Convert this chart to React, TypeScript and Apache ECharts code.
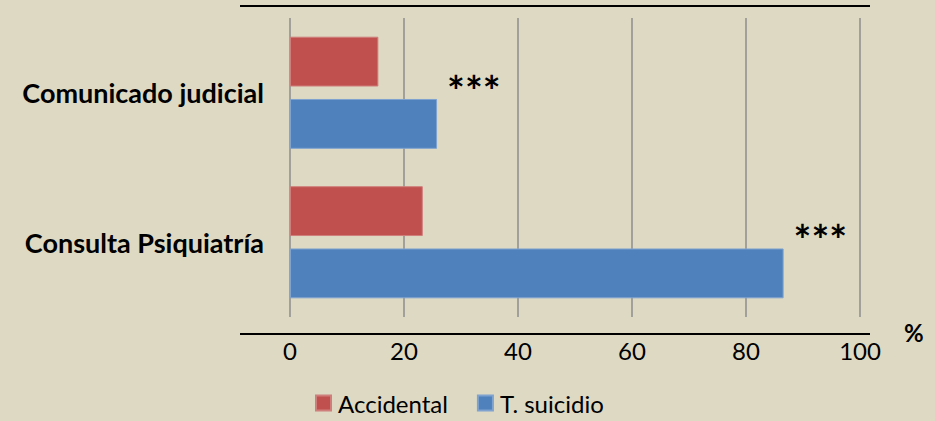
import React, { useEffect, useRef } from "react";
import * as echarts from "echarts";

const categories = ["Comunicado judicial", "Consulta Psiquiatría"];
const accidental = [15.5, 23.3];
const suicidio = [25.8, 86.6];
const significance = ["***", "***"];
const xTicks = [0, 20, 40, 60, 80, 100];

const GRID_LEFT = 290;
const GRID_RIGHT = 75;
const GRID_TOP = 18;
const GRID_BOTTOM = 104;
const W = 935;
const H = 421;

export default function App() {
  const ref = useRef<HTMLDivElement>(null);
  useEffect(() => {
    document.body.style.margin = "0";
    const chart = echarts.init(ref.current!, null, { renderer: "svg" });
    const font = "Lato";
    chart.setOption({
      animation: false,
      backgroundColor: "#DDD9C3",
      textStyle: { fontFamily: font },
      grid: { left: GRID_LEFT, right: GRID_RIGHT, top: GRID_TOP, bottom: GRID_BOTTOM },
      xAxis: {
        type: "value",
        min: xTicks[0],
        max: xTicks[xTicks.length - 1],
        interval: 20,
        axisLine: { show: false },
        axisTick: { show: false },
        axisLabel: { fontSize: 24, color: "#000", margin: 21, fontFamily: font },
        splitLine: { show: true, lineStyle: { color: "#8C8C8C", width: 1.5 } },
      },
      yAxis: {
        type: "category",
        data: categories,
        inverse: true,
        axisLine: { show: false },
        axisTick: { show: false },
        axisLabel: { fontSize: 27, fontWeight: "bold", color: "#000", margin: 26, fontFamily: font },
        splitLine: { show: false },
      },
      legend: {
        top: 391,
        left: 315,
        padding: 0,
        itemWidth: 15,
        itemHeight: 15,
        itemGap: 29,
        icon: "rect",
        textStyle: { fontSize: 24, color: "#000", fontFamily: font, padding: [0, 0, 0, 2] },
        data: ["Accidental", "T. suicidio"],
      },
      series: [
        {
          name: "Accidental",
          type: "bar",
          data: accidental,
          barGap: "25%",
          barCategoryGap: "25%",
          itemStyle: { color: "#C0504D", borderColor: "#D07E7C", borderWidth: 1 },
        },
        {
          name: "T. suicidio",
          type: "bar",
          data: suicidio.map((v, i) => ({
            value: v,
            label: {
              show: true,
              position: "right",
              formatter: significance[i],
              fontSize: 42,
              fontWeight: "bold",
              color: "#000",
              fontFamily: font,
              offset: [5, -33],
            },
          })),
          barGap: "25%",
          barCategoryGap: "25%",
          itemStyle: { color: "#4F81BD", borderColor: "#7FA2CF", borderWidth: 1 },
        },
      ],
      graphic: [
        {
          type: "line",
          shape: { x1: 240, y1: 6, x2: 870, y2: 6 },
          style: { stroke: "#000", lineWidth: 2 },
        },
        {
          type: "line",
          shape: { x1: 240, y1: H - GRID_BOTTOM + 17, x2: 870, y2: H - GRID_BOTTOM + 17 },
          style: { stroke: "#000", lineWidth: 2 },
        },
        {
          type: "text",
          x: 904,
          y: 320,
          style: { text: "%", fontSize: 24, fontWeight: "bold", fill: "#000", fontFamily: font },
        },
      ],
    });
    return () => chart.dispose();
  }, []);
  return <div ref={ref} style={{ width: W, height: H }} />;
}
